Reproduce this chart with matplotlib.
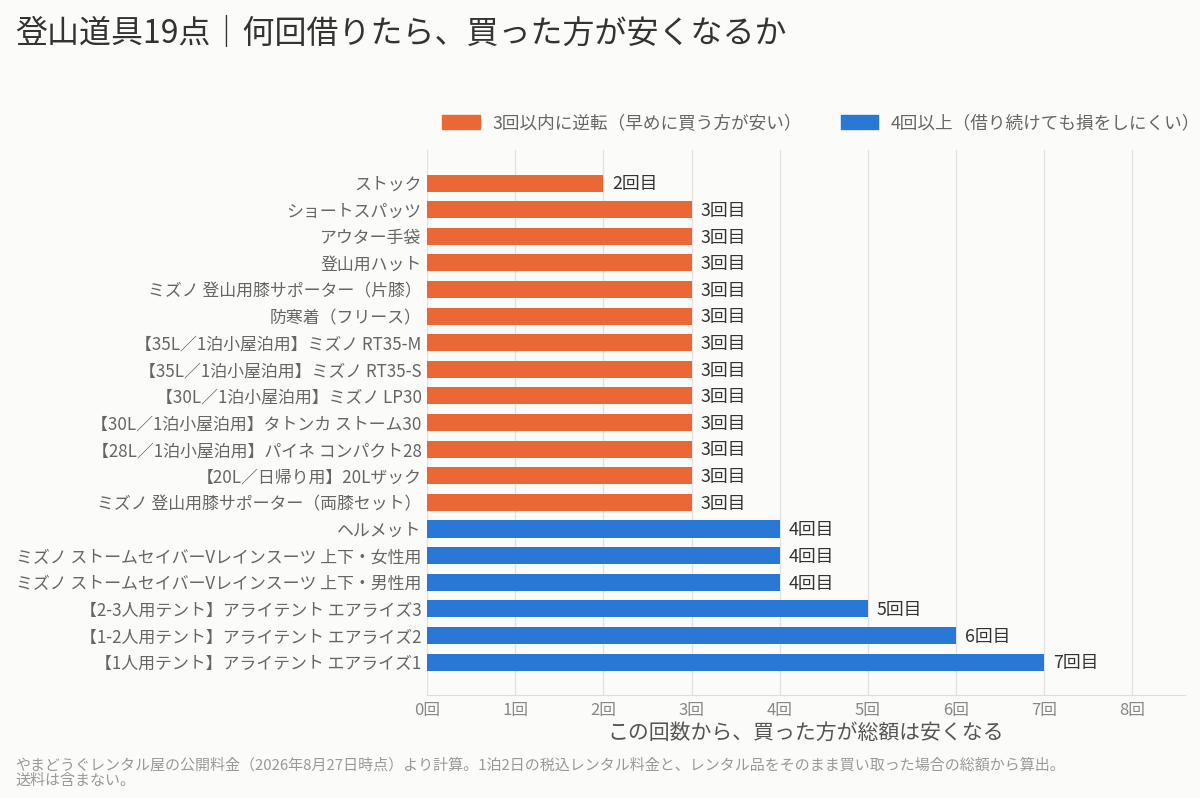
import matplotlib.pyplot as plt
from matplotlib.patches import Patch

plt.rcParams['font.family'] = ['Noto Sans CJK JP', 'DejaVu Sans']

items = [
    "ストック",
    "ショートスパッツ",
    "アウター手袋",
    "登山用ハット",
    "ミズノ 登山用膝サポーター（片膝）",
    "防寒着（フリース）",
    "【35L／1泊小屋泊用】ミズノ RT35-M",
    "【35L／1泊小屋泊用】ミズノ RT35-S",
    "【30L／1泊小屋泊用】ミズノ LP30",
    "【30L／1泊小屋泊用】タトンカ ストーム30",
    "【28L／1泊小屋泊用】パイネ コンパクト28",
    "【20L／日帰り用】20Lザック",
    "ミズノ 登山用膝サポーター（両膝セット）",
    "ヘルメット",
    "ミズノ ストームセイバーVレインスーツ 上下・女性用",
    "ミズノ ストームセイバーVレインスーツ 上下・男性用",
    "【2-3人用テント】アライテント エアライズ3",
    "【1-2人用テント】アライテント エアライズ2",
    "【1人用テント】アライテント エアライズ1",
]
times = [2, 3, 3, 3, 3, 3, 3, 3, 3, 3, 3, 3, 3, 4, 4, 4, 5, 6, 7]
x_ticks = [0, 1, 2, 3, 4, 5, 6, 7, 8]

orange = "#EA6835"
blue = "#2A78D5"
bg = "#FBFBF9"

fig = plt.figure(figsize=(12, 7.98), dpi=100, facecolor=bg)
ax = fig.add_axes([0.356, 0.129, 0.6315, 0.683], facecolor=bg)

ypos = list(range(len(items)))
colors = [orange if t <= 3 else blue for t in times]
ax.barh(ypos, times, height=0.64, color=colors, zorder=3)

for y, t in zip(ypos, times):
    ax.text(t + 0.1, y + 0.05, f"{t}回目", va="center", ha="left", fontsize=12.8, color="#333333")

ax.set_ylim(len(items) - 1 + 1.24, -1.24)
ax.set_xlim(0, 8.6)
ax.set_yticks(ypos)
ax.set_yticklabels(items, fontsize=12.2, color="#666666")
ax.set_xticks(x_ticks)
ax.set_xticklabels([f"{v}回" for v in x_ticks], fontsize=12, color="#888888")
ax.tick_params(axis="both", length=0, pad=4)
ax.tick_params(axis="x", pad=5)
ax.grid(axis="x", color="#e2e2e2", linewidth=1, zorder=0)
for s in ["top", "right", "left"]:
    ax.spines[s].set_visible(False)
ax.spines["bottom"].set_color("#dddddd")
ax.set_xlabel("この回数から、買った方が総額は安くなる", fontsize=15, color="#555555", labelpad=2)

fig.text(0.0125, 0.958, "登山道具19点｜何回借りたら、買った方が安くなるか", fontsize=23,
         color="#333333", va="center", ha="left")

handles = [Patch(color=orange, label="3回以内に逆転（早めに買う方が安い）"),
           Patch(color=blue, label="4回以上（借り続けても損をしにくい）")]
fig.legend(handles=handles, loc="center left", bbox_to_anchor=(0.3553, 0.846), ncol=2,
           frameon=False, fontsize=12.7, handlelength=2.12, handleheight=0.87,
           handletextpad=0.72, columnspacing=2.2, labelcolor="#666666")

fig.text(0.0125, 0.0313, "やまどうぐレンタル屋の公開料金（2026年8月27日時点）より計算。1泊2日の税込レンタル料金と、レンタル品をそのまま買い取った場合の総額から算出。\n送料は含まない。",
         fontsize=10.8, color="#999999", va="center", ha="left", linespacing=1.1)

fig.savefig("out.png", dpi=100, facecolor=bg)
